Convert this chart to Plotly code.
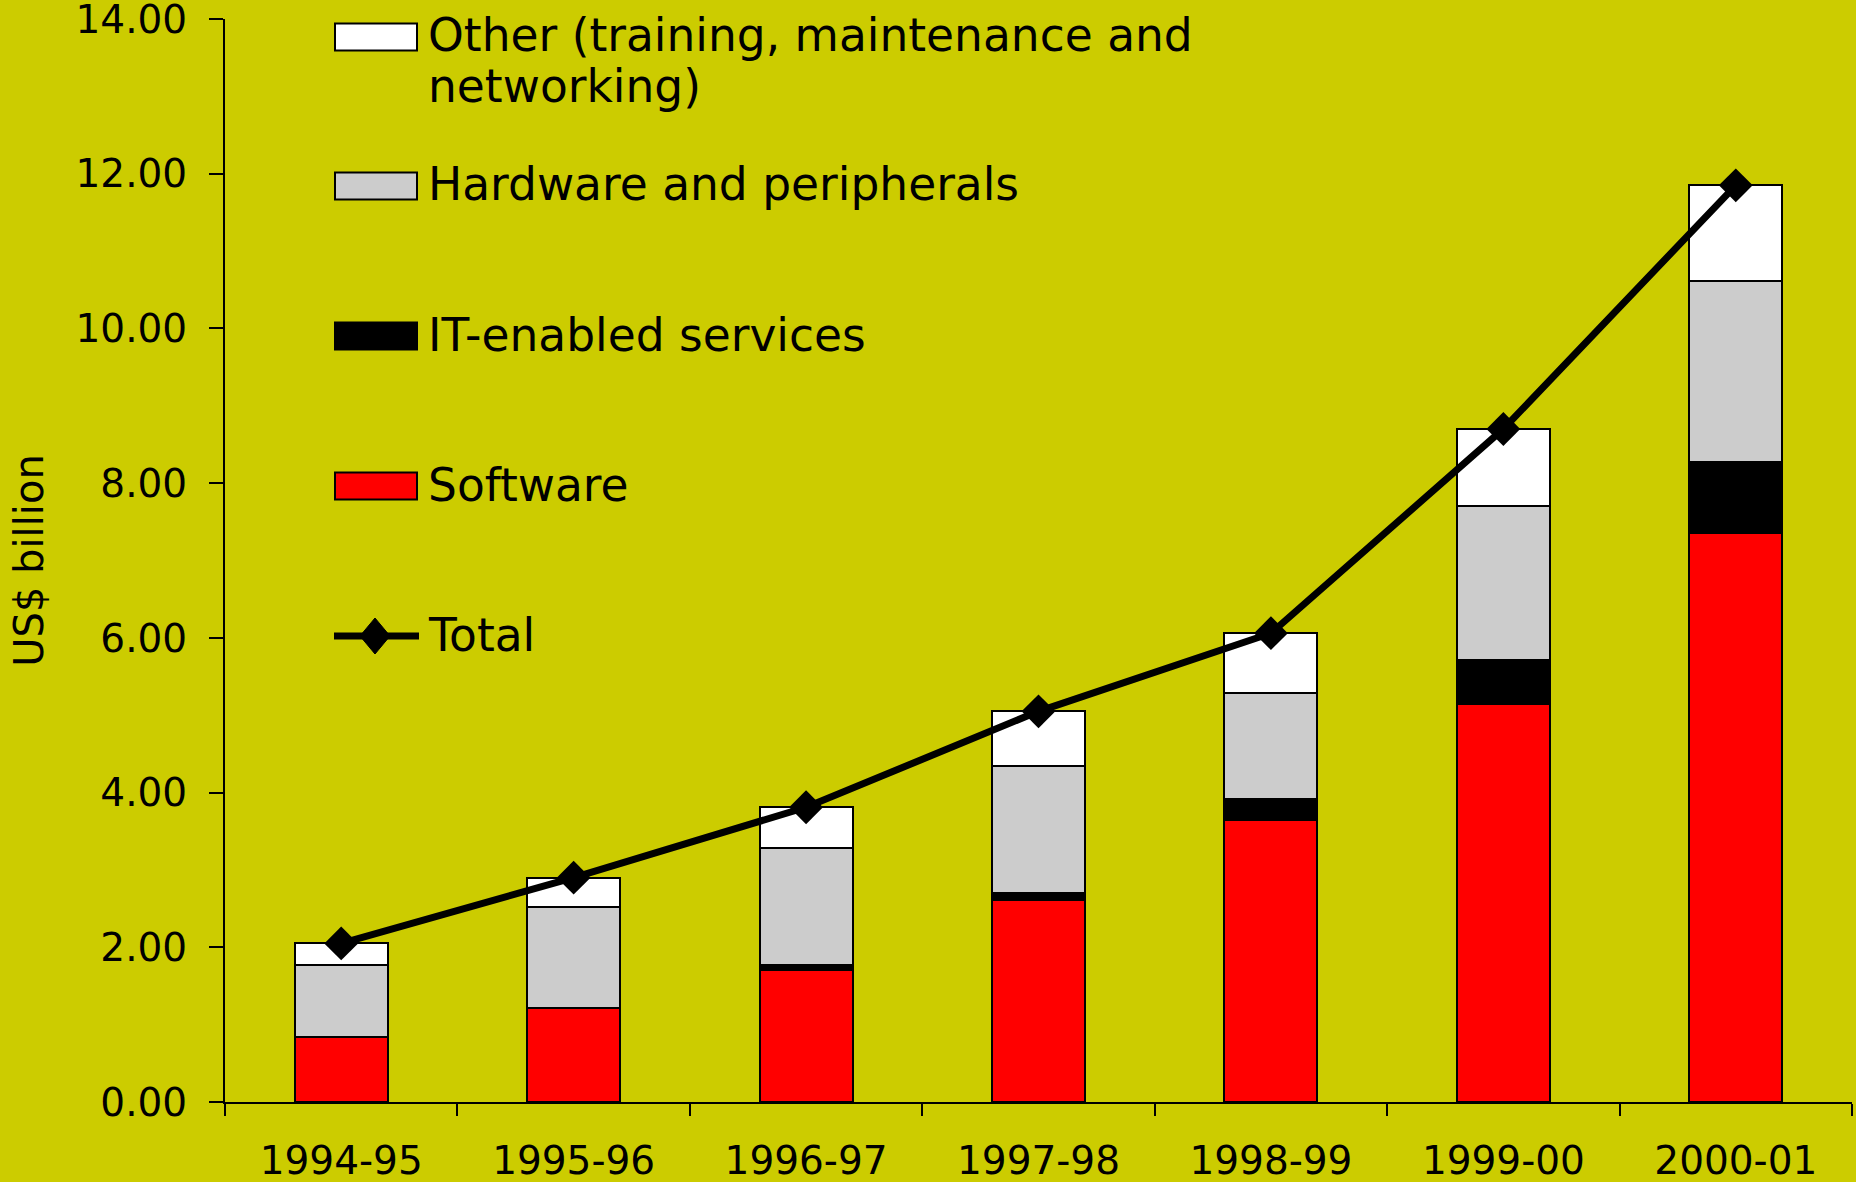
import plotly.graph_objects as go

# === data (US$ billion) ===
years = ["1994-95", "1995-96", "1996-97", "1997-98", "1998-99", "1999-00", "2000-01"]
software = [0.84, 1.22, 1.71, 2.61, 3.65, 5.14, 7.36]
ites = [0.00, 0.00, 0.06, 0.09, 0.27, 0.58, 0.91]
hardware = [0.93, 1.30, 1.52, 1.65, 1.37, 1.99, 2.34]
other = [0.28, 0.38, 0.52, 0.70, 0.77, 0.99, 1.24]
total = [2.05, 2.90, 3.81, 5.05, 6.06, 8.70, 11.85]
y_ticks = [0, 2, 4, 6, 8, 10, 12, 14]

BG = "#CCCC00"
FONT = "DejaVu Sans, Arial, sans-serif"

# figure / plot area in pixels
W, H = 1856, 1182
ML, MR, MT, MB = 225, 4, 19, 80
PW, PH = W - ML - MR, H - MT - MB

def px(x):
    return (x - ML) / PW

def py(y):
    return (H - MB - y) / PH

fig = go.Figure()

series = [
    ("Software", software, "#FF0000"),
    ("IT-enabled services", ites, "#000000"),
    ("Hardware and peripherals", hardware, "#CCCCCC"),
    ("Other (training, maintenance and networking)", other, "#FFFFFF"),
]
for name, vals, col in series:
    fig.add_trace(go.Bar(
        x=years, y=vals, name=name,
        marker=dict(color=col, line=dict(color="black", width=2)),
        showlegend=False,
    ))

fig.add_trace(go.Scatter(
    x=years, y=total, name="Total",
    mode="lines+markers",
    line=dict(color="black", width=7),
    marker=dict(symbol="diamond", size=26, color="black"),
    showlegend=False,
))

# === hand-made legend (wide swatches like the original) ===
shapes = []
annotations = []
legend_items = [
    (["Other (training, maintenance and", "networking)"], "#FFFFFF", 37),
    (["Hardware and peripherals"], "#CCCCCC", 186),
    (["IT-enabled services"], "#000000", 336),
    (["Software"], "#FF0000", 486),
]
for lines, col, cy in legend_items:
    shapes.append(dict(
        type="rect", xref="paper", yref="paper",
        x0=px(335), x1=px(417), y0=py(cy - 13.5), y1=py(cy + 13.5),
        fillcolor=col, line=dict(color="black", width=2),
    ))
    for i, txt in enumerate(lines):
        annotations.append(dict(
            text=txt, xref="paper", yref="paper",
            x=px(426), y=py(cy - 1 + i * 51), xanchor="left", yanchor="middle",
            showarrow=False, font=dict(size=45.5, color="black", family=FONT),
        ))

ty = 636
shapes.append(dict(
    type="line", xref="paper", yref="paper",
    x0=px(334), x1=px(419), y0=py(ty), y1=py(ty),
    line=dict(color="black", width=7),
))
shapes.append(dict(
    type="path", xref="paper", yref="paper",
    path=f"M {px(360)} {py(ty)} L {px(375)} {py(ty - 18)} L {px(390)} {py(ty)} L {px(375)} {py(ty + 18)} Z",
    fillcolor="black", line=dict(color="black", width=1),
))
annotations.append(dict(
    text="Total", xref="paper", yref="paper",
    x=px(426), y=py(ty - 1), xanchor="left", yanchor="middle",
    showarrow=False, font=dict(size=45.5, color="black", family=FONT),
))

fig.update_layout(
    width=W, height=H,
    barmode="stack", bargap=0.6,
    paper_bgcolor=BG, plot_bgcolor=BG,
    margin=dict(l=ML, r=MR, t=MT, b=MB, pad=0),
    font=dict(family=FONT, color="black"),
    showlegend=False,
    shapes=shapes,
    annotations=annotations,
    xaxis=dict(
        type="category", automargin=False,
        range=[-0.5, 6.5], showgrid=False, zeroline=False,
        showline=True, linecolor="black", linewidth=2,
        ticks="outside", tickson="boundaries", ticklen=12, tickwidth=2, tickcolor="black",
        tickfont=dict(size=39), tickangle=0, ticklabelstandoff=23,
    ),
    yaxis=dict(
        automargin=False,
        range=[0, 14], tickvals=y_ticks, tickformat=".2f",
        showgrid=False, zeroline=False,
        showline=True, linecolor="black", linewidth=2,
        ticks="outside", ticklen=14, tickwidth=2, tickcolor="black",
        tickfont=dict(size=39), ticklabelstandoff=14, ticklabeloverflow="allow",
        title=dict(text="US$ billion", font=dict(size=40), standoff=20),
    ),
)

fig.write_html("out.html", config={"displayModeBar": False},
               post_script="document.body.style.margin='0';")
